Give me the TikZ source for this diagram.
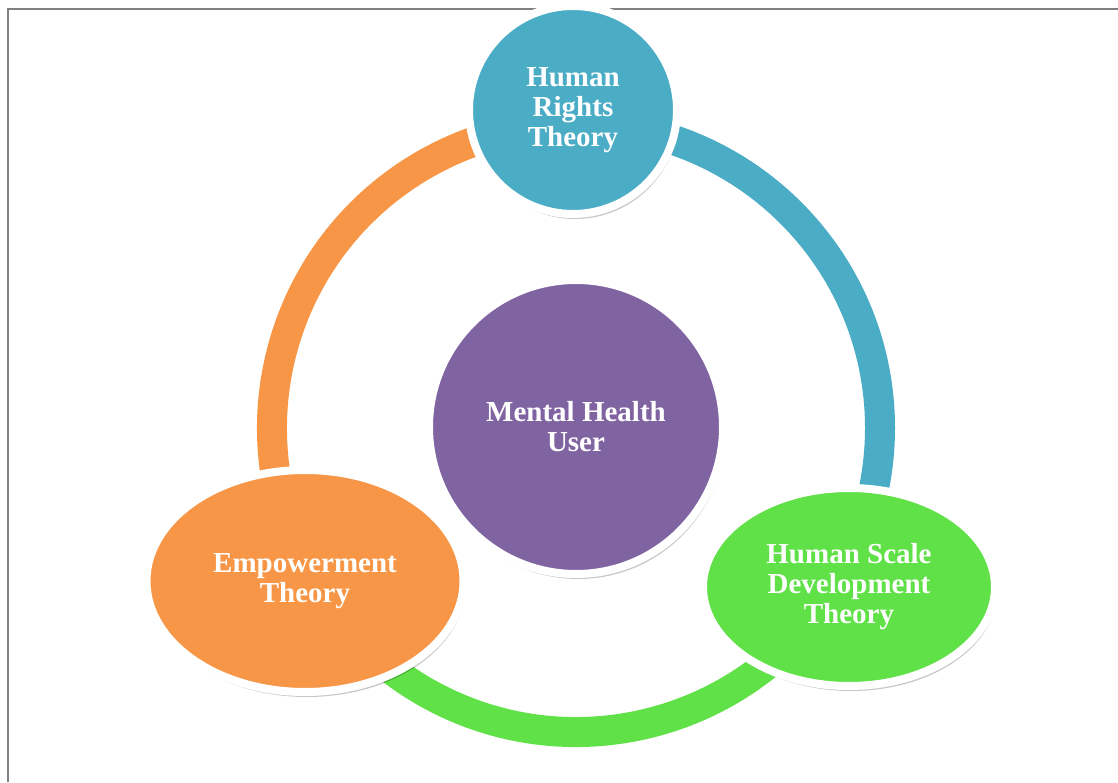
\documentclass[tikz,border=0pt]{standalone}
\usepackage{fontspec}
\setmainfont{Liberation Serif}
\usepackage{tikz}
\usetikzlibrary{shapes.geometric, shadows, positioning}
\usepackage{xcolor}

\definecolor{rightsblue}{HTML}{4BACC6}
\definecolor{empowerorange}{HTML}{F79646}
\definecolor{scalegreen}{HTML}{60E148}
\definecolor{userpurple}{HTML}{8064A2}
\definecolor{framegray}{HTML}{808080}

\begin{document}
\begin{tikzpicture}[x=1pt, y=1pt,
    theory/.style={draw=white, line width=8pt, inner sep=0pt, text=white, align=center,
        font=\bfseries\fontsize{29}{30}\selectfont,
        drop shadow={shadow xshift=2pt, shadow yshift=-5pt, opacity=0.22, fill=black}},
    ringarc/.style={line width=30pt, line cap=butt}]

\useasboundingbox (0,0) rectangle (1118,782);

% Draw the frame lines
\draw[framegray, line width=2pt] (8,0) -- (8,773) -- (1118,773);

% Draw the ring
\coordinate (ring) at (576,354);
\draw[ringarc, rightsblue] ([shift={(90:304)}]ring) arc (90:-30:304);
\draw[ringarc, scalegreen] ([shift={(-30:304)}]ring) arc (-30:-150:304);
\draw[ringarc, empowerorange] ([shift={(210:304)}]ring) arc (210:90:304);

% Add the centre node
\node[theory, circle, fill=userpurple, minimum size=294pt] (user) at (576,355)
    {Mental Health\\User};

% Add the three theories
\node[theory, circle, fill=rightsblue, minimum size=208pt] (rights) at (573,672)
    {Human\\Rights\\Theory};
\node[theory, ellipse, fill=empowerorange, minimum width=317pt, minimum height=222pt] (empower) at (305,201)
    {Empowerment\\Theory};
\node[theory, ellipse, fill=scalegreen, minimum width=292pt, minimum height=198pt] (scale) at (849,195)
    {Human Scale\\Development\\Theory};

\end{tikzpicture}
\end{document}
